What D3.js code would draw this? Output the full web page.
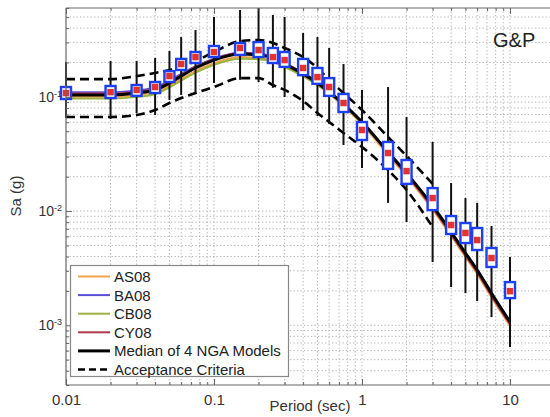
<!DOCTYPE html>
<html>
<head>
<meta charset="utf-8">
<script src="https://cdn.jsdelivr.net/npm/d3@7"></script>
<style>
  body { margin: 0; background: #fff; }
  svg { display: block; font-family: "Liberation Sans", Arial, Helvetica, sans-serif; }
</style>
</head>
<body>
<svg id="chart" width="550" height="417"></svg>
<script>
// Spectral periods (sec)
const periods = [0.01,0.02,0.03,0.04,0.05,0.06,0.075,0.1,0.15,0.2,0.25,0.3,0.4,0.5,0.6,0.75,1,1.5,2,3,4,5,6,7.5,10];

// Record set statistics, Sa (g)
const recMedian = [0.108,0.110,0.115,0.122,0.152,0.194,0.223,0.247,0.268,0.257,0.223,0.210,0.179,0.149,0.122,0.0884,0.0513,0.0322,0.0224,0.0130,0.00755,0.00643,0.00558,0.00388,0.00199];
const recQ3     = [0.122,0.1245,0.127,0.135,0.168,0.215,0.247,0.279,0.296,0.302,0.268,0.247,0.215,0.179,0.146,0.106,0.0602,0.0403,0.0280,0.0159,0.00905,0.00786,0.00711,0.00475,0.00239];
const recQ1     = [0.0958,0.0977,0.102,0.108,0.135,0.172,0.198,0.223,0.233,0.223,0.198,0.183,0.155,0.130,0.102,0.0737,0.0419,0.0234,0.0173,0.0102,0.00630,0.00525,0.00456,0.00324,0.00173];
const recMax    = [0.202,0.206,0.206,0.219,0.252,0.334,0.385,0.500,0.576,0.600,0.521,0.500,0.363,0.334,0.268,0.194,0.115,0.122,0.0666,0.0403,0.0176,0.0130,0.0118,0.00740,0.00396];
const recMin    = [0.0653,0.0640,0.0722,0.0694,0.0939,0.104,0.110,0.132,0.141,0.135,0.120,0.0997,0.0767,0.0680,0.0579,0.0379,0.0238,0.0118,0.00802,0.00358,0.00216,0.00191,0.00163,0.00118,0.000645];

// NGA ground-motion model medians, Sa (g)
const as08 = [0.100,0.100,0.104,0.110,0.125,0.143,0.168,0.197,0.223,0.220,0.207,0.184,0.152,0.127,0.106,0.0833,0.0575,0.0310,0.0201,0.0103,0.00608,0.00397,0.00282,0.00176,0.00099];
const ba08 = [0.110,0.110,0.114,0.121,0.139,0.159,0.185,0.216,0.243,0.238,0.223,0.197,0.161,0.134,0.111,0.0872,0.0605,0.0330,0.0216,0.0112,0.00660,0.00432,0.00307,0.00192,0.00108];
const cb08 = [0.097,0.097,0.100,0.106,0.121,0.139,0.163,0.191,0.216,0.214,0.203,0.182,0.152,0.127,0.107,0.0840,0.0590,0.0322,0.0210,0.0108,0.00640,0.00418,0.00297,0.00186,0.00104];
const cy08 = [0.107,0.107,0.111,0.118,0.135,0.155,0.183,0.214,0.242,0.238,0.224,0.198,0.162,0.134,0.111,0.0870,0.0600,0.0322,0.0208,0.0106,0.00625,0.00408,0.00290,0.00181,0.00102];
const ngaMedian = [0.104,0.104,0.108,0.115,0.132,0.152,0.179,0.210,0.237,0.233,0.219,0.194,0.159,0.132,0.110,0.0866,0.0602,0.0329,0.0215,0.0111,0.00656,0.00429,0.00305,0.00191,0.00107];

// Acceptance band
const accPeriods = [0.01,0.02,0.03,0.04,0.05,0.06,0.075,0.1,0.15,0.2,0.25,0.3,0.4,0.5,0.6,0.75,1,1.5,2,3];
const accUpper = [0.143,0.143,0.152,0.162,0.172,0.186,0.206,0.247,0.308,0.315,0.296,0.268,0.223,0.179,0.141,0.108,0.0767,0.0445,0.0304,0.0173];
const accLower = [0.0666,0.0666,0.0694,0.0767,0.0884,0.0977,0.108,0.122,0.146,0.146,0.127,0.115,0.092,0.0722,0.0602,0.0483,0.0364,0.0229,0.0153,0.00725];

// Axis tick labels
const xTickLabels = [0.01, 0.1, 1, 10];
const yTickLabels = [1e-3, 1e-2, 1e-1];

const legendLabels = ["AS08", "BA08", "CB08", "CY08", "Median of 4 NGA Models", "Acceptance Criteria"];
const modelColors = ["#f2a24a", "#5b4fd6", "#9db23f", "#b03a4c"];

const svg = d3.select("#chart");
const pLeft = 66, pTop = 8, pBottom = 385, pRight = 550;
const x = d3.scaleLog().domain([0.01, 20]).range([pLeft, pLeft + 148 * Math.log10(2000)]);
const y = d3.scaleLog().domain([3e-4, 0.6]).range([pBottom, pTop]);

// minor + major tick positions
function logTicks(lo, hi) {
  const out = [];
  for (let e = -5; e <= 2; e++) {
    for (let m = 1; m <= 9; m++) {
      const v = +(m * Math.pow(10, e)).toPrecision(6);
      if (v >= lo * 0.9999 && v <= hi * 1.0001) out.push(v);
    }
  }
  return out;
}
const xAll = logTicks(0.01, 20);
const yAll = logTicks(3e-4, 0.6);

// dotted grid
const grid = svg.append("g").attr("stroke", "#b4b4b4").attr("stroke-width", 1).attr("stroke-dasharray", "1.3,2.2");
grid.selectAll("line.gx").data(xAll.filter(v => v > 0.01)).join("line")
  .attr("x1", d => x(d)).attr("x2", d => x(d)).attr("y1", pTop).attr("y2", pBottom);
grid.selectAll("line.gy").data(yAll.filter(v => v > 3e-4 && v < 0.6)).join("line")
  .attr("x1", pLeft).attr("x2", pRight).attr("y1", d => y(d)).attr("y2", d => y(d));

const line = d3.line().x(d => x(d[0])).y(d => y(d[1])).curve(d3.curveMonotoneX);
const zipP = arr => periods.map((p, i) => [p, arr[i]]);

// model curves
[as08, ba08, cb08, cy08].forEach((arr, i) => {
  svg.append("path").attr("d", line(zipP(arr))).attr("fill", "none")
    .attr("stroke", modelColors[i]).attr("stroke-width", 2);
});
// median of models
svg.append("path").attr("d", line(zipP(ngaMedian))).attr("fill", "none")
  .attr("stroke", "#000").attr("stroke-width", 3);

// acceptance criteria
[accUpper, accLower].forEach(arr => {
  svg.append("path").attr("d", line(accPeriods.map((p, i) => [p, arr[i]])))
    .attr("fill", "none").attr("stroke", "#000").attr("stroke-width", 2.6)
    .attr("stroke-dasharray", "9,5");
});

// whiskers
svg.append("g").selectAll("line").data(periods).join("line")
  .attr("x1", d => x(d)).attr("x2", d => x(d))
  .attr("y1", (d, i) => y(recMax[i])).attr("y2", (d, i) => y(recMin[i]))
  .attr("stroke", "#111").attr("stroke-width", 2);

// interquartile boxes
const bw = 10;
svg.append("g").selectAll("rect").data(periods).join("rect")
  .attr("x", d => x(d) - bw / 2).attr("width", bw)
  .attr("y", (d, i) => y(recQ3[i])).attr("height", (d, i) => y(recQ1[i]) - y(recQ3[i]))
  .attr("fill", "#fff").attr("stroke", "#1c3ff0").attr("stroke-width", 2.4);

// record medians
const ms = 6.5;
svg.append("g").selectAll("rect").data(periods).join("rect")
  .attr("x", d => x(d) - ms / 2).attr("width", ms)
  .attr("y", (d, i) => y(recMedian[i]) - ms / 2).attr("height", ms)
  .attr("fill", "#e2342c");

// axes frame with inward ticks
const axisColor = "#666";
function styleAxis(g) {
  g.select(".domain").remove();
  g.selectAll("line").attr("stroke", axisColor);
}
const xMajor = xTickLabels, yMajor = yTickLabels;
const xMinor = xAll.filter(v => !xMajor.includes(v));
const yMinor = yAll.filter(v => !yMajor.includes(v));

svg.append("g").attr("transform", `translate(0,${pBottom})`)
  .call(d3.axisBottom(x).tickValues(xMinor).tickSize(-3).tickFormat("")).call(styleAxis);
svg.append("g").attr("transform", `translate(0,${pTop})`)
  .call(d3.axisTop(x).tickValues(xMinor).tickSize(-3).tickFormat("")).call(styleAxis);
svg.append("g").attr("transform", `translate(0,${pTop})`)
  .call(d3.axisTop(x).tickValues(xMajor).tickSize(-6).tickFormat("")).call(styleAxis);
svg.append("g").attr("transform", `translate(${pLeft},0)`)
  .call(d3.axisLeft(y).tickValues(yMinor).tickSize(-3).tickFormat("")).call(styleAxis);

const xAxis = svg.append("g").attr("transform", `translate(0,${pBottom})`)
  .call(d3.axisBottom(x).tickValues(xMajor).tickSize(-6).tickPadding(9).tickFormat(d => String(d)));
xAxis.call(styleAxis);
xAxis.selectAll("text").attr("font-size", 15).attr("fill", "#333")
  .attr("font-family", "Liberation Sans, Arial, sans-serif");

const yAxis = svg.append("g").attr("transform", `translate(${pLeft},0)`)
  .call(d3.axisLeft(y).tickValues(yMajor).tickSize(-6).tickPadding(4).tickFormat(""));
yAxis.call(styleAxis);
yAxis.selectAll(".tick text").each(function(d) {
  const t = d3.select(this).attr("font-size", 14).attr("fill", "#333")
    .attr("font-family", "Liberation Sans, Arial, sans-serif");
  t.text(null);
  t.append("tspan").text("10");
  t.append("tspan").attr("dy", "-0.55em").attr("font-size", 9).text(String(Math.round(Math.log10(d))));
});

// frame lines
const frame = svg.append("g").attr("stroke", axisColor).attr("stroke-width", 1.2);
frame.append("line").attr("x1", pLeft).attr("x2", pRight).attr("y1", pBottom).attr("y2", pBottom);
frame.append("line").attr("x1", pLeft).attr("x2", pRight).attr("y1", pTop).attr("y2", pTop);
frame.append("line").attr("x1", pLeft).attr("x2", pLeft).attr("y1", pTop).attr("y2", pBottom);

// axis titles
svg.append("text").attr("x", 310).attr("y", 411).attr("text-anchor", "middle")
  .attr("font-size", 15).attr("fill", "#333").text("Period (sec)");
svg.append("text").attr("transform", "translate(21,196) rotate(-90)").attr("text-anchor", "middle")
  .attr("font-size", 15).attr("fill", "#333").text("Sa (g)");

// panel tag
svg.append("text").attr("x", 493).attr("y", 47).attr("font-size", 20).attr("fill", "#222").text("G&P");

// legend
const lg = svg.append("g");
lg.append("rect").attr("x", 70.5).attr("y", 265.5).attr("width", 218).attr("height", 111)
  .attr("fill", "#fff").attr("stroke", "#888").attr("stroke-width", 1.2);
const rowY = i => 276.5 + i * 18.6;
legendLabels.forEach((lab, i) => {
  const ln = lg.append("line").attr("x1", 78).attr("x2", 110).attr("y1", rowY(i)).attr("y2", rowY(i));
  if (i < 4) ln.attr("stroke", modelColors[i]).attr("stroke-width", 2);
  else if (i === 4) ln.attr("stroke", "#000").attr("stroke-width", 3);
  else ln.attr("stroke", "#000").attr("stroke-width", 2.6).attr("stroke-dasharray", "7,4");
  lg.append("text").attr("x", 114).attr("y", rowY(i) + 5.5).attr("font-size", 15)
    .attr("fill", "#222").text(lab);
});
</script>
</body>
</html>
